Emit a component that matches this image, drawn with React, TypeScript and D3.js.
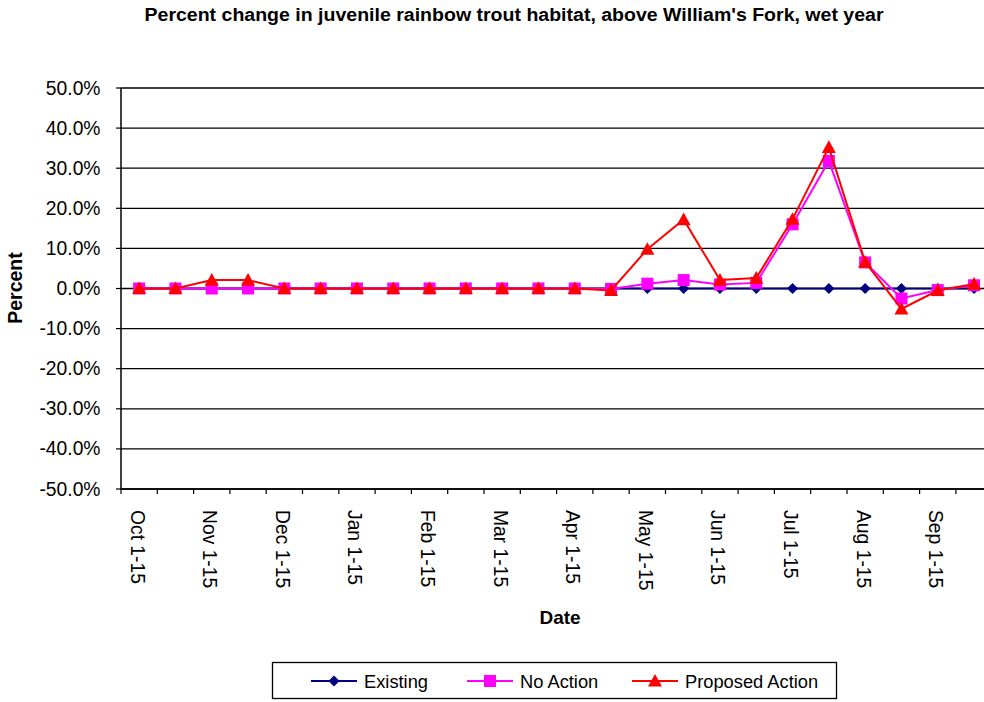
import React from "react";
import * as d3 from "d3";

const categories = [
  "Oct 1-15", "Oct 16-31", "Nov 1-15", "Nov 16-30", "Dec 1-15", "Dec 16-31",
  "Jan 1-15", "Jan 16-31", "Feb 1-15", "Feb 16-28", "Mar 1-15", "Mar 16-31",
  "Apr 1-15", "Apr 16-30", "May 1-15", "May 16-31", "Jun 1-15", "Jun 16-30",
  "Jul 1-15", "Jul 16-31", "Aug 1-15", "Aug 16-31", "Sep 1-15", "Sep 16-30",
];

const existing = [0, 0, 0, 0, 0, 0, 0, 0, 0, 0, 0, 0, 0, 0, 0, 0, 0, 0, 0, 0, 0, 0, 0, 0];
const noAction = [0, 0, 0, 0, 0, 0, 0, 0, 0, 0, 0, 0, 0, -0.1, 1.2, 2.1, 1.0, 1.4, 16.0, 31.8, 6.5, -2.5, -0.4, 0.8];
const proposedAction = [0, 0, 2.1, 2.1, 0, 0, 0, 0, 0, 0, 0, 0, 0, -0.5, 9.8, 17.2, 2.1, 2.6, 17.3, 35.2, 6.6, -5.1, -0.5, 1.1];

const yTicks = [50, 40, 30, 20, 10, 0, -10, -20, -30, -40, -50];

const seriesNames = ["Existing", "No Action", "Proposed Action"];

const W = 984;
const H = 702;
const left = 121;
const right = 992.2;
const top = 88;
const bottom = 489;

const x = d3.scaleBand<string>().domain(categories).range([left, right]).padding(0);
const y = d3.scaleLinear().domain([-50, 50]).range([bottom, top]);
const cx = (c: string) => (x(c) as number) + x.bandwidth() / 2;

const font = "'Liberation Sans', Arial, sans-serif";

function marker(kind: string, px: number, py: number, color: string, key: any) {
  if (kind === "diamond") {
    const s = 5.5;
    return (
      <path key={key} d={`M${px},${py - s}L${px + s},${py}L${px},${py + s}L${px - s},${py}Z`} fill={color} />
    );
  }
  if (kind === "square") {
    const s = 6;
    return <rect key={key} x={px - s} y={py - s} width={2 * s} height={2 * s} fill={color} />;
  }
  const s = 7;
  return (
    <path key={key} d={`M${px},${py - s}L${px + s},${py + s * 0.8}L${px - s},${py + s * 0.8}Z`} fill={color} />
  );
}

export default function App() {
  const series = [
    { name: seriesNames[0], values: existing, color: "#000080", kind: "diamond" },
    { name: seriesNames[1], values: noAction, color: "#FF00FF", kind: "square" },
    { name: seriesNames[2], values: proposedAction, color: "#FF0000", kind: "triangle" },
  ];
  const line = d3
    .line<number>()
    .x((_, i) => cx(categories[i]))
    .y((d) => y(d));

  const legendItems = [
    { lx: 311, tx: 364 },
    { lx: 467, tx: 520 },
    { lx: 632, tx: 685 },
  ];
  const ly = 681;

  return (
    <div style={{ position: "fixed", left: 0, top: 0 }}>
      <svg width={W} height={H} style={{ display: "block", background: "#fff" }} fontFamily={font}>
        <text x={514} y={20.5} textAnchor="middle" fontSize={17.5} fontWeight="bold" textLength={739} lengthAdjust="spacingAndGlyphs">
          Percent change in juvenile rainbow trout habitat, above William's Fork, wet year
        </text>

        {/* gridlines */}
        {yTicks.map((t) => (
          <line key={"g" + t} x1={left} x2={right} y1={y(t)} y2={y(t)} stroke="#000" strokeWidth={1.3} />
        ))}

        {/* y axis */}
        <line x1={left} x2={left} y1={top} y2={bottom} stroke="#000" strokeWidth={1.5} />
        {yTicks.map((t) => (
          <g key={"yt" + t}>
            <line x1={left - 5} x2={left} y1={y(t)} y2={y(t)} stroke="#000" strokeWidth={1.2} />
            <text x={100.5} y={y(t)} textAnchor="end" dominantBaseline="central" fontSize={19.3}>
              {t.toFixed(1) + "%"}
            </text>
          </g>
        ))}

        {/* x axis */}
        <line x1={left} x2={right} y1={bottom} y2={bottom} stroke="#000" strokeWidth={1.5} />
        {categories.map((c, i) => (
          <line key={"xt" + i} x1={x(c) as number} x2={x(c) as number} y1={bottom} y2={bottom + 5} stroke="#000" strokeWidth={1.2} />
        ))}
        {categories.map((c, i) =>
          i % 2 === 0 ? (
            <text
              key={"xl" + i}
              transform={`translate(${cx(c) - 2},510) rotate(90)`}
              textAnchor="start"
              dominantBaseline="central"
              fontSize={19.3}
            >
              {c}
            </text>
          ) : null
        )}

        <text x={560} y={624} textAnchor="middle" fontSize={19} fontWeight="bold">
          Date
        </text>
        <text transform={`translate(22,288) rotate(-90)`} textAnchor="middle" fontSize={19.5} fontWeight="bold">
          Percent
        </text>

        {/* series */}
        {series.map((s) => (
          <g key={s.name}>
            <path d={line(s.values) || ""} fill="none" stroke={s.color} strokeWidth={2} />
            {s.values.map((v, i) => marker(s.kind, cx(categories[i]), y(v), s.color, i))}
          </g>
        ))}

        {/* legend */}
        <rect x={272.5} y={662.5} width={564} height={36} fill="#fff" stroke="#000" strokeWidth={1.3} />
        {series.map((s, i) => (
          <g key={"lg" + i}>
            <line x1={legendItems[i].lx} x2={legendItems[i].lx + 46} y1={ly} y2={ly} stroke={s.color} strokeWidth={2} />
            {marker(s.kind, legendItems[i].lx + 23, ly, s.color, "m")}
            <text x={legendItems[i].tx} y={ly} dominantBaseline="central" fontSize={18.3}>
              {s.name}
            </text>
          </g>
        ))}
      </svg>
    </div>
  );
}
